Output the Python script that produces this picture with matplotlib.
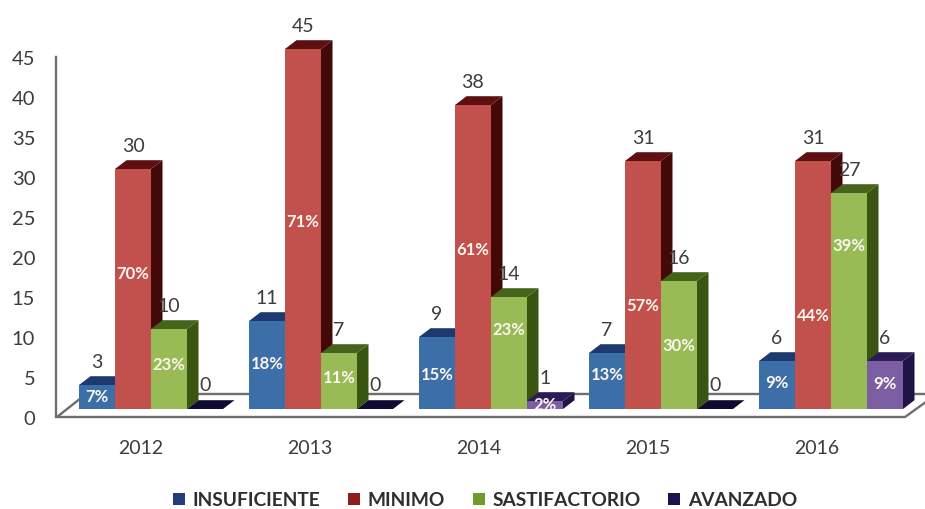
import numpy as np
import matplotlib
matplotlib.use("Agg")
import matplotlib.pyplot as plt
from matplotlib.patches import Patch, Polygon

# --- data ---
years = ["2012", "2013", "2014", "2015", "2016"]
insuficiente = [3, 11, 9, 7, 6]
minimo = [30, 45, 38, 31, 31]
satisfactorio = [10, 7, 14, 16, 27]
avanzado = [0, 0, 1, 0, 6]

pct_insuficiente = ["7%", "18%", "15%", "13%", "9%"]
pct_minimo = ["70%", "71%", "61%", "57%", "44%"]
pct_satisfactorio = ["23%", "11%", "23%", "30%", "39%"]
pct_avanzado = ["", "", "2%", "", "9%"]

y_ticks = [0, 5, 10, 15, 20, 25, 30, 35, 40, 45]

# height of each percent label on the value axis
pct_y_insuficiente = [2.6, 6.8, 5.4, 5.4, 4.4]
pct_y_minimo = [18.0, 24.5, 21.0, 14.0, 12.8]
pct_y_satisfactorio = [6.6, 5.0, 11.0, 9.0, 21.5]
pct_y_avanzado = [0, 0, 1.6, 0, 4.3]

# --- layout (pixels) ---
W, H = 925, 510
PX_X = 170.0
PX_Y = 8.0
X0, Y0 = 141.0, 418.0
BAR_W = 36.0 / PX_X
LEFT_OFFS = -62.0 / PX_X
DX = 11.5 / PX_X      # oblique depth of the bars
DY = 1.1
BASE = 1.0            # bars stand slightly in front of the axis zero

plt.rcParams["font.family"] = ["Lato", "DejaVu Sans"]
TXT = "#3c3c3c"

series = [
    (insuficiente, pct_insuficiente, pct_y_insuficiente, "#3c6ea8", "#1d3a70", "#14305f", "#1f3f7c", "INSUFICIENTE"),
    (minimo, pct_minimo, pct_y_minimo, "#c2504c", "#5e1010", "#430808", "#8f1d1d", "MINIMO"),
    (satisfactorio, pct_satisfactorio, pct_y_satisfactorio, "#98bb55", "#46631a", "#3a5412", "#6f9a2c", "SASTIFACTORIO"),
    (avanzado, pct_avanzado, pct_y_avanzado, "#7c5fa3", "#2b1c58", "#1f1446", "#1b1050", "AVANZADO"),
]

fig = plt.figure(figsize=(W / 100, H / 100), dpi=100)
ax = fig.add_axes([0, 0, 1, 1])
ax.set_xlim(-X0 / PX_X, (W - X0) / PX_X)
ax.set_ylim(-(H - Y0) / PX_Y, Y0 / PX_Y)


def px_x(px):
    return (px - X0) / PX_X


def px_y(px):
    return (Y0 - px) / PX_Y


# floor of the chart
floor = Polygon(
    [(px_x(57), 0), (px_x(905), 0), (px_x(937), px_y(395)), (px_x(86), px_y(395))],
    closed=True, facecolor="white", edgecolor="#6e6e6e", linewidth=1.7, zorder=1,
)
ax.add_patch(floor)

idx = np.arange(len(years))
z = 2
for i in idx:
    for s, (vals, pcts, pct_ys, front, top, side, _, _) in enumerate(series):
        v = vals[i]
        left = i + LEFT_OFFS + s * BAR_W
        right = left + BAR_W
        y_top = BASE + v
        # side and top faces go first, the front face sits over them
        if v > 0:
            ax.add_patch(Polygon(
                [(right, BASE), (right + DX, BASE + DY), (right + DX, y_top + DY), (right, y_top)],
                closed=True, facecolor=side, edgecolor="none", zorder=z))
        top_col = "#0e0a30" if v == 0 else top
        ax.add_patch(Polygon(
            [(left, y_top), (right, y_top), (right + DX, y_top + DY), (left + DX, y_top + DY)],
            closed=True, facecolor=top_col, edgecolor="none", zorder=z))
        ax.bar(left, v, width=BAR_W, bottom=BASE, align="edge", color=front, linewidth=0, zorder=z + 0.5)
        z += 1

# value and percent labels
for i in idx:
    for s, (vals, pcts, pct_ys, *_rest) in enumerate(series):
        cx = i + LEFT_OFFS + (s + 0.5) * BAR_W
        ax.text(cx, BASE + vals[i] + 3.0, str(vals[i]), ha="center", va="center",
                fontsize=14, color=TXT, zorder=100)
        if pcts[i]:
            ax.text(cx, pct_ys[i], pcts[i], ha="center", va="center",
                    fontsize=12, fontweight="bold", color="#fbf6ee", zorder=100)

# axes
for name in ["top", "right"]:
    ax.spines[name].set_visible(False)
ax.spines["left"].set_position(("data", px_x(56)))
ax.spines["left"].set_bounds(0, 45)
ax.spines["left"].set_color("#6e6e6e")
ax.spines["left"].set_linewidth(1.7)
ax.spines["bottom"].set_position(("data", 0))
ax.spines["bottom"].set_visible(False)
ax.patch.set_visible(False)

ax.set_yticks(y_ticks)
ax.set_xticks(idx - 0.006 * idx)
ax.set_xticklabels(years)
ax.tick_params(axis="y", length=0, pad=15, labelsize=14.5, labelcolor=TXT)
ax.tick_params(axis="x", length=0, pad=15.5, labelsize=14, labelcolor=TXT)

handles = [Patch(facecolor=c[6], edgecolor="none", label=c[7]) for c in series]
ax.legend(handles=handles, ncol=4, frameon=False, loc="center",
          bbox_to_anchor=(485 / W, 1 - 501 / H),
          prop={"size": 13.8, "weight": "bold"}, labelcolor="#2e2e2e",
          handlelength=0.62, handleheight=0.62, handletextpad=0.4, columnspacing=1.45,
          borderpad=0)

fig.savefig("out.png", dpi=100)
